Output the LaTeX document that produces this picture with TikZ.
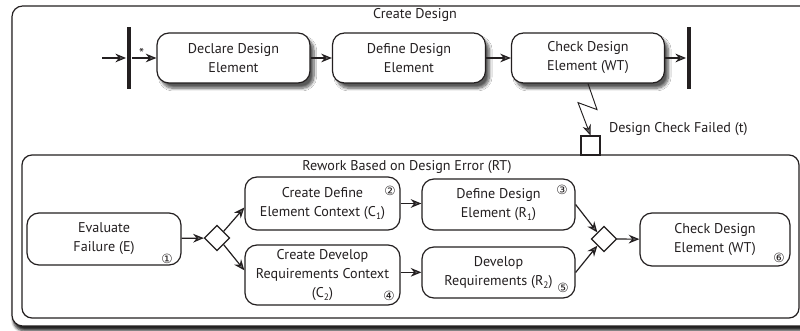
\documentclass[tikz,border=0pt]{standalone}
\usepackage{fontspec}
\setmainfont{PT Sans}
\newfontfamily\symfont{DejaVu Sans}
\usetikzlibrary{arrows.meta,shapes.geometric,shadows.blur}
\definecolor{ink}{HTML}{231F20}
\newcommand\lowidx[1]{\raisebox{-0.45ex}{\scriptsize #1}}
\begin{document}
\begin{tikzpicture}[x=0.75pt,y=-0.75pt,
  font=\fontsize{10.6}{14.25}\selectfont,
  line width=0.9pt, color=ink,
  act/.style={draw, rounded corners=9pt, align=center, minimum width=114.75pt, minimum height=37.5pt, fill=white, inner sep=1pt},
  actsh/.style={act, blur shadow={shadow xshift=3pt, shadow yshift=-4pt, shadow blur steps=10, shadow opacity=65}},
  dec/.style={draw, diamond, aspect=1, minimum size=19pt, inner sep=0pt, fill=white},
  bar/.style={fill=ink, draw=none, minimum width=3.5pt, minimum height=46.5pt, inner sep=0pt},
  flow/.style={-{Stealth[length=8pt,width=6.5pt]}},
  num/.style={font=\symfont\fontsize{9.5}{9.5}\selectfont, inner sep=0pt},
]
\useasboundingbox (0,0) rectangle (800,331);
% outer frame
\draw[rounded corners=8pt, fill=white, blur shadow={shadow xshift=1pt, shadow yshift=-3.5pt, shadow blur steps=5, shadow opacity=85}] (12,6) rectangle (812,326);
\node (t1) at (415,15) {Create Design};
% inner frame
\draw[rounded corners=7.5pt, fill=white] (22,155) rectangle (799,318);
\node (t2) at (407,167) {Rework Based on Design Error (RT)};
% top row
\coordinate (start) at (102,58);
\node[bar] (fork) at (129,58) {};
\node[actsh] (declare) at (233.5,58) {Declare Design\\Element};
\node[actsh] (define) at (409,58) {Define Design\\Element};
\node[actsh] (check) at (588,58) {Check Design\\Element (WT)};
\node[bar] (join) at (689,58) {};
\draw[flow] (start) -- (fork.west);
\draw[flow] (fork.east) -- node[pos=0.4, anchor=south, inner sep=0pt, yshift=-1pt] (star) {*} (declare.west);
\draw[flow] (declare) -- (define);
\draw[flow] (define) -- (check);
\draw[flow] (check) -- (join.west);
% signal
\node[draw, fill=white, minimum size=14.25pt, inner sep=0pt, line width=0.8pt] (sig) at (590.5,145.5) {};
\draw[flow, line width=0.7pt] (check.south) -- ++(9,26) -- ++(-19,-7) -- (sig.north);
\node[anchor=west] (sigl) at (604,129) {Design Check Failed (t)};
% rework
\node[act, minimum width=115.5pt, minimum height=39pt] (eval) at (104,239) {Evaluate\\Failure (E)};
\node[dec] (d1) at (217,238) {};
\node[act, minimum width=116.25pt, minimum height=39.75pt] (c1) at (322.5,203.5) {Create Define\\Element Context (C\lowidx{1})};
\node[act, minimum width=116.25pt, minimum height=45pt, inner sep=0pt] (c2) at (322.5,275) {Create Develop\\Requirements Context\\(C\lowidx{2})};
\node[act, minimum width=114.75pt, minimum height=38.25pt] (r1) at (498.5,204.5) {Define Design\\Element (R\lowidx{1})};
\node[act, minimum width=114.75pt, minimum height=38.25pt] (r2) at (498.5,272.5) {Develop\\Requirements (R\lowidx{2})};
\node[dec] (d2) at (604,239) {};
\node[act, minimum width=112.5pt, minimum height=39.75pt] (wt) at (715,239.5) {Check Design\\Element (WT)};
\coordinate (c2e) at ([yshift=2pt]c2.east);
\draw[flow] (eval) -- (d1);
\draw[flow] (d1.north east) -- ([yshift=-3pt]c1.west);
\draw[flow] (d1.south east) -- ([yshift=3.5pt]c2.west);
\draw[flow] (c1.east) -- (r1.west |- c1.east);
\draw[flow] (c2e) -- (c2e -| r2.west);
\draw[flow] (r1.east) -- (d2.north west);
\draw[flow] (r2.east) -- (d2.south west);
\draw[flow] (d2) -- (wt);
% numbers
\node[num] (n1) at (167,259) {①};
\node[num] (n2) at (390,191) {②};
\node[num] (n3) at (562,190) {③};
\node[num] (n4) at (389,296) {④};
\node[num] (n5) at (563,288) {⑤};
\node[num] (n6) at (779,258) {⑥};
\end{tikzpicture}
\end{document}
